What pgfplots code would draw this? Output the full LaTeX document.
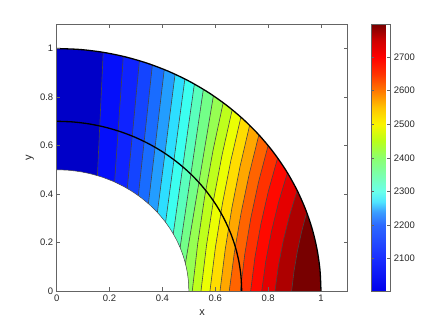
\documentclass[border=0pt]{standalone}
\usepackage{fontspec}
\setmainfont{Liberation Sans}
\usepackage{pgfplots}
\pgfplotsset{compat=1.18}

% band colours, left (cold) to right (hot)
\definecolor{b01}{RGB}{0,0,200}
\definecolor{b02}{RGB}{5,15,250}
\definecolor{b03}{RGB}{15,35,255}
\definecolor{b04}{RGB}{20,68,255}
\definecolor{b05}{RGB}{25,108,255}
\definecolor{b06}{RGB}{35,157,255}
\definecolor{b07}{RGB}{45,222,255}
\definecolor{b08}{RGB}{60,255,240}
\definecolor{b09}{RGB}{90,255,188}
\definecolor{b10}{RGB}{115,255,136}
\definecolor{b11}{RGB}{150,255,82}
\definecolor{b12}{RGB}{190,255,28}
\definecolor{b13}{RGB}{235,255,3}
\definecolor{b14}{RGB}{255,221,0}
\definecolor{b15}{RGB}{255,167,0}
\definecolor{b16}{RGB}{255,100,0}
\definecolor{b17}{RGB}{255,50,0}
\definecolor{b18}{RGB}{255,9,0}
\definecolor{b19}{RGB}{228,0,0}
\definecolor{b20}{RGB}{173,0,0}
\definecolor{b21}{RGB}{120,0,0}
\definecolor{cline}{RGB}{70,70,70}
\definecolor{axgray}{RGB}{100,100,100}

% colour bar as it looks in the figure (positions = value - 2004)
\pgfplotsset{colormap={tempmap}{
    rgb255(0pt)=(0,0,235) rgb255(96pt)=(25,45,255) rgb255(196pt)=(45,105,255)
    rgb255(236pt)=(60,160,255) rgb255(266pt)=(80,230,255) rgb255(296pt)=(105,255,235)
    rgb255(396pt)=(140,255,110) rgb255(446pt)=(185,255,25) rgb255(496pt)=(250,245,0)
    rgb255(546pt)=(255,195,0) rgb255(596pt)=(255,120,0) rgb255(646pt)=(255,50,0)
    rgb255(696pt)=(255,0,0) rgb255(746pt)=(205,0,0) rgb255(793pt)=(120,0,0)}}

\begin{document}
\begin{tikzpicture}
\path[use as bounding box] (-56.7bp,-37bp) rectangle (379.3bp,291bp);
\begin{axis}[
    scale only axis,
    width=290.7bp, height=266.7bp,
    xmin=0, xmax=1.1, ymin=0, ymax=1.1,
    xtick={0,0.2,0.4,0.6,0.8,1},
    ytick={0,0.2,0.4,0.6,0.8,1},
    tick align=inside,
    major tick length=3.5bp,
    axis on top,
    axis line style={axgray, line width=0.5bp},
    every tick/.style={axgray, line width=0.5bp},
    tick label style={font=\fontsize{9.5}{11}\selectfont, text=black!85},
    /pgf/number format/assume math mode=true,
    xlabel={x}, ylabel={y},
    label style={font=\fontsize{11}{13}\selectfont, text=black!85},
    xlabel style={at={(axis description cs:0.5,-0.0825)}, anchor=center},
    ylabel style={at={(axis description cs:-0.092,0.5)}, anchor=center},
    colormap name=tempmap,
    point meta min=2004, point meta max=2797,
    colorbar,
    colorbar style={
        scale only axis,
        width=19bp, height=266.7bp,
        at={(parent axis.north east)}, anchor=north west, xshift=15.5bp,
        ytick={2100,2200,2300,2400,2500,2600,2700},
        ytick pos=both, yticklabel pos=right,
        yticklabel style={font=\fontsize{9.5}{11}\selectfont, text=black!85,
            /pgf/number format/1000 sep={},
            /pgf/number format/assume math mode=true},
        tick align=inside, major tick length=3bp,
        axis line style={axgray, line width=0.5bp},
        every tick/.style={axgray, line width=0.5bp},
    },
    band/.style={draw=cline, line width=0.6bp, mark=none},
]
% lowest band covers everything, each next band covers the area right of its contour
\addplot[fill=b01, draw=none] coordinates {(-0.1,-0.1) (1.2,-0.1) (1.2,1.2) (-0.1,1.2)};
\addplot[band, fill=b02] coordinates {(0.154,-0.1) (0.154,0.4757) (0.176,0.9844) (0.176,1.2) (1.2,1.2) (1.2,-0.1)};
\addplot[band, fill=b03] coordinates {(0.219,-0.1) (0.219,0.4495) (0.252,0.9677) (0.252,1.2) (1.2,1.2) (1.2,-0.1)};
\addplot[band, fill=b04] coordinates {(0.267,-0.1) (0.267,0.4227) (0.313,0.9497) (0.313,1.2) (1.2,1.2) (1.2,-0.1)};
\addplot[band, fill=b05] coordinates {(0.309,-0.1) (0.309,0.3931) (0.362,0.9322) (0.362,1.2) (1.2,1.2) (1.2,-0.1)};
\addplot[band, fill=b06] coordinates {(0.347,-0.1) (0.347,0.3600) (0.407,0.9134) (0.407,1.2) (1.2,1.2) (1.2,-0.1)};
\addplot[band, fill=b07] coordinates {(0.381,-0.1) (0.381,0.3238) (0.448,0.8940) (0.448,1.2) (1.2,1.2) (1.2,-0.1)};
\addplot[band, fill=b08] coordinates {(0.412,-0.1) (0.412,0.2833) (0.485,0.8745) (0.485,1.2) (1.2,1.2) (1.2,-0.1)};
\addplot[band, fill=b09] coordinates {(0.441,-0.1) (0.441,0.2356) (0.521,0.8536) (0.521,1.2) (1.2,1.2) (1.2,-0.1)};
\addplot[band, fill=b10] coordinates {(0.467,-0.1) (0.467,0.1787) (0.555,0.8319) (0.555,1.2) (1.2,1.2) (1.2,-0.1)};
\addplot[band, fill=b11] coordinates {(0.487,-0.1) (0.487,0.1133) (0.593,0.8052) (0.593,1.2) (1.2,1.2) (1.2,-0.1)};
\addplot[band, fill=b12] coordinates {(0.513,-0.1) (0.513,0) (0.5335,0.1942) (0.5598,0.3883) (0.5920,0.5825) (0.630,0.7766) (0.630,1.2) (1.2,1.2) (1.2,-0.1)};
\addplot[band, fill=b13] coordinates {(0.546,-0.1) (0.546,0) (0.5667,0.1869) (0.5932,0.3739) (0.6257,0.5608) (0.664,0.7477) (0.664,1.2) (1.2,1.2) (1.2,-0.1)};
\addplot[band, fill=b14] coordinates {(0.580,-0.1) (0.580,0) (0.6005,0.1793) (0.6268,0.3586) (0.6590,0.5378) (0.697,0.7171) (0.697,1.2) (1.2,1.2) (1.2,-0.1)};
\addplot[band, fill=b15] coordinates {(0.618,-0.1) (0.618,0) (0.6376,0.1709) (0.6628,0.3417) (0.6936,0.5126) (0.730,0.6834) (0.730,1.2) (1.2,1.2) (1.2,-0.1)};
\addplot[band, fill=b16] coordinates {(0.653,-0.1) (0.653,0) (0.6726,0.1610) (0.6978,0.3220) (0.7286,0.4830) (0.765,0.6440) (0.765,1.2) (1.2,1.2) (1.2,-0.1)};
\addplot[band, fill=b17] coordinates {(0.695,-0.1) (0.695,0) (0.7114,0.1500) (0.7344,0.3000) (0.7639,0.4500) (0.800,0.6000) (0.800,1.2) (1.2,1.2) (1.2,-0.1)};
\addplot[band, fill=b18] coordinates {(0.734,-0.1) (0.734,0) (0.7499,0.1372) (0.7723,0.2744) (0.8009,0.4115) (0.836,0.5487) (0.836,1.2) (1.2,1.2) (1.2,-0.1)};
\addplot[band, fill=b19] coordinates {(0.776,-0.1) (0.776,0) (0.7911,0.1219) (0.8124,0.2439) (0.8396,0.3658) (0.873,0.4877) (0.873,1.2) (1.2,1.2) (1.2,-0.1)};
\addplot[band, fill=b20] coordinates {(0.826,-0.1) (0.826,0) (0.8391,0.1037) (0.8575,0.2073) (0.8811,0.3110) (0.910,0.4146) (0.910,1.2) (1.2,1.2) (1.2,-0.1)};
\addplot[band, fill=b21] coordinates {(0.889,-0.1) (0.889,0) (0.8979,0.0811) (0.9104,0.1621) (0.9264,0.2432) (0.946,0.3242) (0.946,1.2) (1.2,1.2) (1.2,-0.1)};
% blank outside the annulus
\addplot[fill=white, draw=none] coordinates {(1,-0.1) (1,0) (0.99619,0.08716) (0.98481,0.17365) (0.96593,0.25882) (0.93969,0.34202) (0.90631,0.42262) (0.86603,0.5) (0.81915,0.57358) (0.76604,0.64279) (0.70711,0.70711) (0.64279,0.76604) (0.57358,0.81915) (0.5,0.86603) (0.42262,0.90631) (0.34202,0.93969) (0.25882,0.96593) (0.17365,0.98481) (0.08716,0.99619) (0,1) (-0.1,1) (-0.1,1.2) (1.2,1.2) (1.2,-0.1)};
\addplot[fill=white, draw=none] coordinates {(-0.1,-0.1) (0.5,-0.1) (0.5,0) (0.49810,0.04358) (0.49240,0.08682) (0.48296,0.12941) (0.46985,0.17101) (0.45315,0.21131) (0.43301,0.25) (0.40958,0.28679) (0.38302,0.32139) (0.35355,0.35355) (0.32139,0.38302) (0.28679,0.40958) (0.25,0.43301) (0.21131,0.45315) (0.17101,0.46985) (0.12941,0.48296) (0.08682,0.49240) (0.04358,0.49810) (0,0.5) (-0.1,0.5)};
% boundary arcs
\addplot[cline, line width=0.5bp, smooth, mark=none] coordinates {(0.5,0) (0.49810,0.04358) (0.49240,0.08682) (0.48296,0.12941) (0.46985,0.17101) (0.45315,0.21131) (0.43301,0.25) (0.40958,0.28679) (0.38302,0.32139) (0.35355,0.35355) (0.32139,0.38302) (0.28679,0.40958) (0.25,0.43301) (0.21131,0.45315) (0.17101,0.46985) (0.12941,0.48296) (0.08682,0.49240) (0.04358,0.49810) (0,0.5)};
\addplot[black, line width=1.3bp, smooth, mark=none] coordinates {(0.7,0) (0.69734,0.06101) (0.68937,0.12155) (0.67615,0.18117) (0.65778,0.23941) (0.63442,0.29583) (0.60622,0.35) (0.57341,0.40151) (0.53623,0.44995) (0.49497,0.49497) (0.44995,0.53623) (0.40151,0.57341) (0.35,0.60622) (0.29583,0.63442) (0.23941,0.65778) (0.18117,0.67615) (0.12155,0.68937) (0.06101,0.69734) (0,0.7)};
\addplot[black, line width=1.3bp, smooth, mark=none] coordinates {(1,0) (0.99619,0.08716) (0.98481,0.17365) (0.96593,0.25882) (0.93969,0.34202) (0.90631,0.42262) (0.86603,0.5) (0.81915,0.57358) (0.76604,0.64279) (0.70711,0.70711) (0.64279,0.76604) (0.57358,0.81915) (0.5,0.86603) (0.42262,0.90631) (0.34202,0.93969) (0.25882,0.96593) (0.17365,0.98481) (0.08716,0.99619) (0,1)};
\end{axis}
\end{tikzpicture}
\end{document}
